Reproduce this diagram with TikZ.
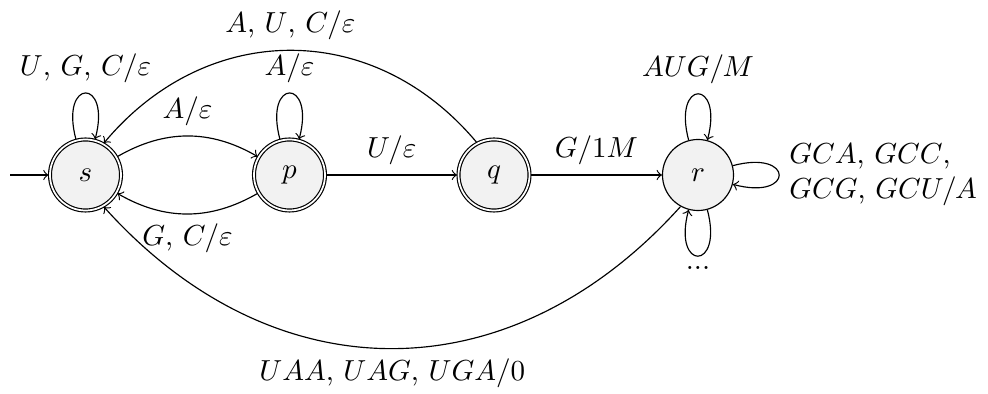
\documentclass[tikz,border=0pt]{standalone}
\usetikzlibrary{automata}
\begin{document}
\begin{tikzpicture}[x=0.345pt, y=0.345pt, >=to,
  every state/.style={draw, fill=gray!10, minimum size=24.5pt, inner sep=0pt},
  lp/.style={min distance=22pt}]
\useasboundingbox (0,0) rectangle (988,-394);

% states
\node[state, accepting] (s) at (85.5,-175) {$s$};
\node[state, accepting] (p) at (289.5,-175) {$p$};
\node[state, accepting] (q) at (494,-175) {$q$};
\node[state] (r) at (698,-175) {$r$};
\coordinate (init) at (10,-175);

% start arrow
\draw[->] (init) -- (s);

% self loops
\path[->] (s) edge[loop above, lp] node[above] {$U$, $G$, $C/\varepsilon$} (s);
\path[->] (p) edge[loop above, lp] node[above] {$A/\varepsilon$} (p);
\path[->] (r) edge[loop above, lp] node[above] {$AUG/M$} (r);
\path[->] (r) edge[loop right, lp] node[right, align=left] {$GCA$, $GCC$,\\$GCG$, $GCU/A$} (r);
\path[->] (r) edge[loop below, lp] node[below] {...} (r);

% transitions between states
\path[->] (s) edge[bend left] node[above] {$A/\varepsilon$} (p);
\path[->] (p) edge[bend left] node[below] {$G$, $C/\varepsilon$} (s);
\path[->] (p) edge node[above] {$U/\varepsilon$} (q);
\path[->] (q) edge node[above] {$G/1M$} (r);
\draw[->] (q.118) .. controls +(-103,123) and +(103,123) .. node[above] {$A$, $U$, $C/\varepsilon$} (s.60);
\draw[->] (r.241) .. controls +(-170,-189) and +(170,-189) .. node[below] {$UAA$, $UAG$, $UGA/0$} (s.300);
\end{tikzpicture}
\end{document}
